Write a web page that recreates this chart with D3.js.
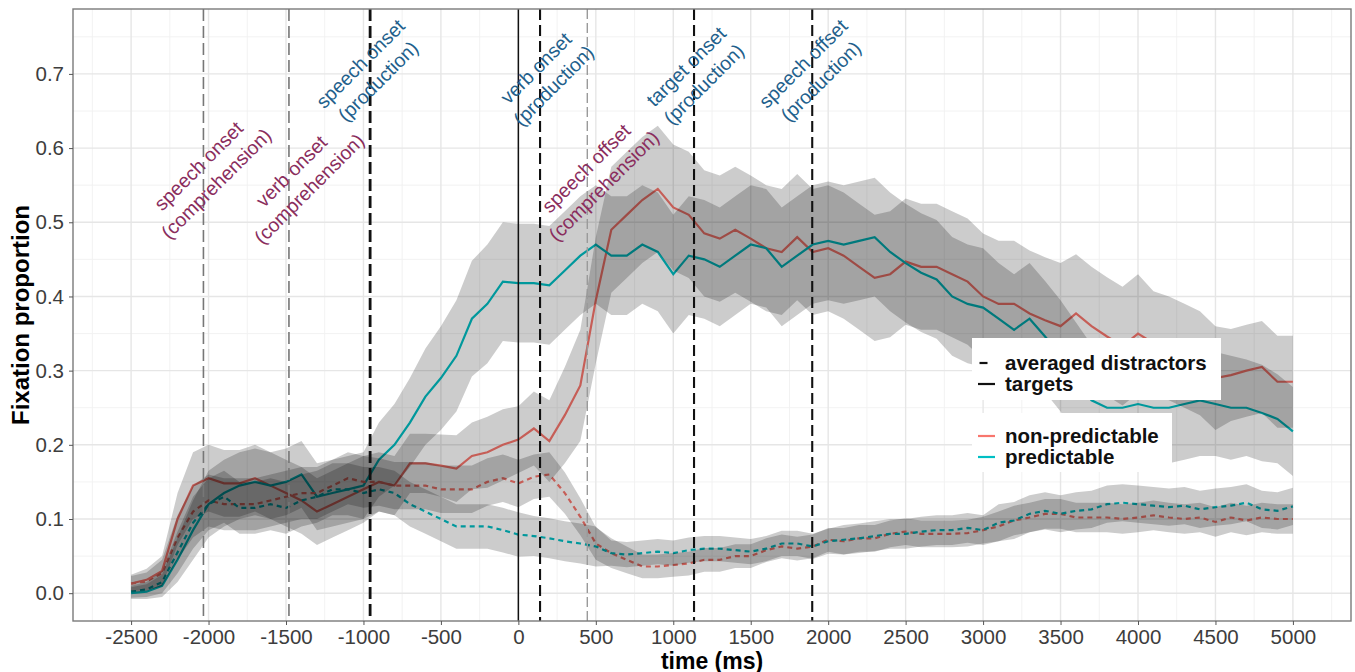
<!DOCTYPE html>
<html><head><meta charset="utf-8">
<script src="https://cdn.jsdelivr.net/npm/d3@7"></script>
<style>
body{margin:0;background:#fff}
svg{display:block}
text{font-family:"Liberation Sans",Arial,Helvetica,sans-serif}
</style>
</head><body>
<svg id="chart" width="1355" height="672"></svg>
<script>
// ---------- data ----------
const times = [
  -2500,-2400,-2300,-2200,-2100,-2000,-1900,-1800,-1700,-1600,
  -1500,-1400,-1300,-1200,-1100,-1000,-900,-800,-700,-600,
  -500,-400,-300,-200,-100,0,100,200,300,400,
  500,600,700,800,900,1000,1100,1200,1300,1400,
  1500,1600,1700,1800,1900,2000,2100,2200,2300,2400,
  2500,2600,2700,2800,2900,3000,3100,3200,3300,3400,
  3500,3600,3700,3800,3900,4000,4100,4200,4300,4400,
  4500,4600,4700,4800,4900,5000];

// targets, non-predictable (red solid)
const nonPredTarget = [
  0.013,0.018,0.030,0.100,0.145,0.155,0.148,0.148,0.155,0.145,
  0.135,0.125,0.110,0.120,0.130,0.140,0.150,0.145,0.175,0.175,
  0.172,0.168,0.185,0.190,0.200,0.207,0.222,0.205,0.240,0.280,
  0.395,0.490,0.510,0.530,0.545,0.520,0.510,0.485,0.478,0.490,
  0.478,0.465,0.460,0.480,0.460,0.465,0.455,0.440,0.425,0.430,
  0.447,0.440,0.440,0.430,0.420,0.400,0.390,0.390,0.377,0.368,
  0.360,0.377,0.360,0.346,0.333,0.350,0.337,0.330,0.320,0.310,
  0.290,0.294,0.300,0.305,0.285,0.285];
// targets, predictable (teal solid)
const predTarget = [
  0.000,0.002,0.010,0.045,0.085,0.120,0.135,0.145,0.150,0.145,
  0.150,0.160,0.130,0.135,0.140,0.145,0.180,0.200,0.230,0.265,
  0.290,0.320,0.370,0.390,0.420,0.418,0.418,0.415,0.435,0.455,
  0.470,0.455,0.455,0.470,0.460,0.430,0.455,0.450,0.440,0.455,
  0.470,0.465,0.440,0.455,0.470,0.475,0.470,0.475,0.480,0.460,
  0.445,0.432,0.423,0.400,0.390,0.385,0.370,0.355,0.370,0.346,
  0.320,0.290,0.260,0.250,0.250,0.255,0.250,0.250,0.255,0.260,
  0.255,0.250,0.250,0.243,0.235,0.218];
// averaged distractors, non-predictable (red dashed)
const nonPredDistr = [
  0.013,0.016,0.027,0.075,0.110,0.125,0.120,0.120,0.120,0.125,
  0.130,0.135,0.135,0.145,0.155,0.150,0.150,0.145,0.145,0.145,
  0.140,0.140,0.140,0.150,0.155,0.148,0.157,0.160,0.135,0.103,
  0.067,0.054,0.045,0.036,0.036,0.038,0.040,0.045,0.045,0.050,
  0.050,0.058,0.063,0.060,0.063,0.072,0.070,0.074,0.074,0.080,
  0.083,0.080,0.080,0.080,0.081,0.085,0.090,0.098,0.102,0.107,
  0.107,0.102,0.102,0.102,0.100,0.102,0.105,0.102,0.100,0.102,
  0.096,0.102,0.098,0.102,0.100,0.100];
// averaged distractors, predictable (teal dashed)
const predDistr = [
  0.002,0.005,0.015,0.055,0.095,0.120,0.130,0.115,0.115,0.120,
  0.115,0.125,0.130,0.140,0.140,0.135,0.140,0.135,0.120,0.110,
  0.100,0.090,0.090,0.090,0.085,0.079,0.077,0.074,0.070,0.067,
  0.063,0.054,0.052,0.054,0.056,0.054,0.058,0.060,0.060,0.058,
  0.056,0.060,0.067,0.067,0.063,0.070,0.072,0.074,0.077,0.080,
  0.080,0.083,0.085,0.085,0.088,0.085,0.095,0.098,0.107,0.111,
  0.107,0.111,0.113,0.120,0.122,0.120,0.118,0.116,0.118,0.113,
  0.116,0.118,0.122,0.113,0.111,0.117];

// half-widths of the grey confidence ribbons
const nonPredTargetCI = [
  0.012,0.015,0.020,0.035,0.045,0.045,0.045,0.045,0.045,0.045,
  0.045,0.045,0.045,0.045,0.045,0.045,0.040,0.040,0.040,0.040,
  0.042,0.045,0.045,0.048,0.048,0.045,0.050,0.055,0.065,0.075,
  0.085,0.085,0.085,0.085,0.085,0.085,0.085,0.085,0.085,0.085,
  0.085,0.085,0.085,0.085,0.085,0.085,0.085,0.085,0.085,0.085,
  0.085,0.085,0.085,0.085,0.085,0.085,0.085,0.085,0.085,0.085,
  0.085,0.080,0.080,0.080,0.080,0.080,0.070,0.070,0.070,0.070,
  0.070,0.062,0.062,0.062,0.062,0.062];
const predTargetCI = [
  0.008,0.010,0.015,0.030,0.040,0.045,0.045,0.045,0.045,0.045,
  0.045,0.045,0.045,0.045,0.045,0.045,0.050,0.055,0.060,0.065,
  0.070,0.075,0.078,0.080,0.080,0.080,0.080,0.080,0.080,0.080,
  0.080,0.080,0.080,0.080,0.080,0.080,0.080,0.080,0.080,0.080,
  0.080,0.080,0.080,0.080,0.080,0.080,0.080,0.080,0.080,0.080,
  0.080,0.080,0.080,0.080,0.080,0.080,0.075,0.075,0.075,0.075,
  0.075,0.075,0.075,0.075,0.075,0.075,0.075,0.075,0.075,0.075,
  0.070,0.070,0.065,0.065,0.060,0.060];
const nonPredDistrCI = [
  0.010,0.012,0.018,0.030,0.035,0.035,0.035,0.035,0.035,0.035,
  0.035,0.035,0.035,0.035,0.035,0.035,0.032,0.032,0.032,0.032,
  0.032,0.032,0.032,0.032,0.032,0.032,0.030,0.030,0.028,0.025,
  0.022,0.020,0.018,0.016,0.016,0.016,0.016,0.016,0.016,0.016,
  0.016,0.016,0.016,0.016,0.016,0.016,0.018,0.018,0.018,0.018,
  0.018,0.018,0.018,0.018,0.018,0.018,0.020,0.020,0.020,0.020,
  0.020,0.020,0.020,0.020,0.020,0.020,0.020,0.020,0.020,0.020,
  0.020,0.020,0.020,0.020,0.020,0.020];
const predDistrCI = [
  0.008,0.010,0.015,0.028,0.035,0.035,0.035,0.035,0.035,0.035,
  0.035,0.035,0.035,0.035,0.035,0.035,0.030,0.030,0.030,0.030,
  0.030,0.030,0.030,0.030,0.030,0.030,0.027,0.027,0.027,0.027,
  0.027,0.017,0.017,0.017,0.017,0.017,0.017,0.017,0.017,0.017,
  0.017,0.017,0.017,0.017,0.017,0.017,0.020,0.020,0.020,0.020,
  0.020,0.020,0.020,0.020,0.020,0.020,0.025,0.025,0.025,0.025,
  0.025,0.025,0.025,0.025,0.025,0.025,0.025,0.025,0.025,0.025,
  0.025,0.025,0.025,0.025,0.025,0.025];

const xTicks = [-2500,-2000,-1500,-1000,-500,0,500,1000,1500,2000,2500,3000,3500,4000,4500,5000];
const yTicks = [0.0,0.1,0.2,0.3,0.4,0.5,0.6,0.7];

// event markers (ms) and their kind
const eventTimes = [-2033,-1481,-957,0,140,445,1134,1897];
const eventKinds = ["comp","comp","prodStrong","zero","prod","compLight","prod","prod"];

// rotated annotation labels: centre position in data units
const labelLines1 = ["speech onset","verb onset","speech onset","verb onset","speech offset","target onset","speech offset"];
const labelLines2 = ["(comprehension)","(comprehension)","(production)","(production)","(comprehension)","(production)","(production)"];
const labelX = [-2008,-1408,-963,170,494,1140,1895];
const labelY = [0.564,0.557,0.702,0.696,0.561,0.698,0.702];
const labelGroup = ["comp","comp","prod","prod","comp","prod","prod"];

const legendTypeLabels = ["averaged distractors","targets"];
const legendCondLabels = ["non-predictable","predictable"];

// ---------- drawing ----------
const svg = d3.select("#chart");
const L = 73, R = 1351, T = 9, B = 621;
const x = d3.scaleLinear().domain([-2875,5375]).range([L,R]);
const y = d3.scaleLinear().domain([-0.0375,0.7875]).range([B,T]);

const RED = "#F8766D", TEAL = "#00BFC4";

svg.append("defs").append("clipPath").attr("id","clip")
  .append("rect").attr("x",L).attr("y",T).attr("width",R-L).attr("height",B-T);

svg.append("rect").attr("x",L).attr("y",T).attr("width",R-L).attr("height",B-T).attr("fill","#fff");

// grid
const grid = svg.append("g");
const xMinor = xTicks.map(v=>v-250).concat([5250]);
const yMinor = yTicks.map(v=>v+0.05);
grid.selectAll(".gxm").data(xMinor).join("line")
  .attr("x1",d=>x(d)).attr("x2",d=>x(d)).attr("y1",T).attr("y2",B)
  .attr("stroke","#f0f0f0").attr("stroke-width",0.9);
grid.selectAll(".gym").data(yMinor).join("line")
  .attr("y1",d=>y(d)).attr("y2",d=>y(d)).attr("x1",L).attr("x2",R)
  .attr("stroke","#f0f0f0").attr("stroke-width",0.9);
grid.selectAll(".gx").data(xTicks).join("line")
  .attr("x1",d=>x(d)).attr("x2",d=>x(d)).attr("y1",T).attr("y2",B)
  .attr("stroke","#e6e6e6").attr("stroke-width",1.4);
grid.selectAll(".gy").data(yTicks).join("line")
  .attr("y1",d=>y(d)).attr("y2",d=>y(d)).attr("x1",L).attr("x2",R)
  .attr("stroke","#e6e6e6").attr("stroke-width",1.4);

const plot = svg.append("g").attr("clip-path","url(#clip)");

const series = [
  {v:nonPredTarget, ci:nonPredTargetCI, color:RED, dash:null},
  {v:predTarget, ci:predTargetCI, color:TEAL, dash:null},
  {v:nonPredDistr, ci:nonPredDistrCI, color:RED, dash:"5,4"},
  {v:predDistr, ci:predDistrCI, color:TEAL, dash:"5,4"}
];

const line = d3.line().x((d,i)=>x(times[i])).y(d=>y(d));
series.forEach(s=>{
  plot.append("path").datum(s.v).attr("d",line)
    .attr("fill","none").attr("stroke",s.color).attr("stroke-width",2.2)
    .attr("stroke-dasharray",s.dash);
});
series.forEach(s=>{
  const area = d3.area().x((d,i)=>x(times[i]))
    .y0((d,i)=>y(d - s.ci[i])).y1((d,i)=>y(d + s.ci[i]));
  plot.append("path").datum(s.v).attr("d",area)
    .attr("fill","#000").attr("fill-opacity",0.2);
});

// event lines
const evStyle = {
  comp:{c:"#777",w:1.6,d:"12,5"},
  compLight:{c:"#9a9a9a",w:1.4,d:"10,4"},
  prodStrong:{c:"#111",w:2.8,d:"12,5"},
  prod:{c:"#111",w:2.1,d:"11,5"},
  zero:{c:"#111",w:1.5,d:null}
};
plot.selectAll(".ev").data(eventTimes).join("line")
  .attr("x1",d=>x(d)).attr("x2",d=>x(d)).attr("y1",T).attr("y2",B)
  .attr("stroke",(d,i)=>evStyle[eventKinds[i]].c)
  .attr("stroke-width",(d,i)=>evStyle[eventKinds[i]].w)
  .attr("stroke-dasharray",(d,i)=>evStyle[eventKinds[i]].d);

// annotations
const labColor = {comp:"#8a2d5d", prod:"#225f8c"};
labelLines1.forEach((t1,i)=>{
  const g = svg.append("text")
    .attr("transform",`translate(${x(labelX[i])},${y(labelY[i])}) rotate(-45)`)
    .attr("text-anchor","middle").attr("font-size",19.5)
    .attr("fill",labColor[labelGroup[i]]);
  g.append("tspan").attr("x",0).attr("y",-5.7).text(t1);
  g.append("tspan").attr("x",0).attr("y",19.3).text(labelLines2[i]);
});

// legends
const lg = svg.append("g");
lg.append("rect").attr("x",972).attr("y",338).attr("width",249).attr("height",62).attr("fill","#fff");
lg.append("rect").attr("x",972).attr("y",413).attr("width",200).attr("height",59).attr("fill","#fff");
const typeY = [363,384];
lg.selectAll(".lt").data(legendTypeLabels).join("text")
  .attr("x",1005).attr("y",(d,i)=>typeY[i]+7).attr("font-size",20.5).attr("font-weight","bold")
  .attr("fill","#111").text(d=>d);
lg.append("line").attr("x1",979.5).attr("x2",987.5).attr("y1",typeY[0]).attr("y2",typeY[0])
  .attr("stroke","#111").attr("stroke-width",2.2);
lg.append("line").attr("x1",978).attr("x2",995).attr("y1",typeY[1]).attr("y2",typeY[1])
  .attr("stroke","#111").attr("stroke-width",2.2);
const condY = [436,457];
const condC = [RED,TEAL];
lg.selectAll(".lc").data(legendCondLabels).join("text")
  .attr("x",1005).attr("y",(d,i)=>condY[i]+7).attr("font-size",20.5).attr("font-weight","bold")
  .attr("fill","#111").text(d=>d);
lg.selectAll(".lk").data(legendCondLabels).join("line")
  .attr("x1",978).attr("x2",995).attr("y1",(d,i)=>condY[i]).attr("y2",(d,i)=>condY[i])
  .attr("stroke",(d,i)=>condC[i]).attr("stroke-width",2.2);

// panel border
svg.append("rect").attr("x",L).attr("y",T).attr("width",R-L).attr("height",B-T)
  .attr("fill","none").attr("stroke","#7a7a7a").attr("stroke-width",1.4);

// axes
const xAxis = d3.axisBottom(x).tickValues(xTicks).tickSize(4).tickPadding(4).tickFormat(d3.format("d"));
const gx = svg.append("g").attr("transform",`translate(0,${B})`).call(xAxis);
gx.select(".domain").remove();
gx.selectAll("line").attr("stroke","#555");
gx.selectAll("text").attr("font-size",20.5).attr("fill","#3d3d3d").attr("font-family","Liberation Sans, Arial, sans-serif")
  .text(d=>d<0 ? "-"+Math.abs(d) : d);

const yAxis = d3.axisLeft(y).tickValues(yTicks).tickSize(4).tickPadding(5).tickFormat(d3.format(".1f"));
const gy = svg.append("g").attr("transform",`translate(${L},0)`).call(yAxis);
gy.select(".domain").remove();
gy.selectAll("line").attr("stroke","#555");
gy.selectAll("text").attr("font-size",20.5).attr("fill","#3d3d3d").attr("font-family","Liberation Sans, Arial, sans-serif");

svg.append("text").attr("x",(L+R)/2).attr("y",668.5).attr("text-anchor","middle")
  .attr("font-size",23).attr("font-weight","bold").attr("fill","#000").text("time (ms)");
svg.append("text").attr("transform",`translate(29,${(T+B)/2}) rotate(-90)`).attr("text-anchor","middle")
  .attr("font-size",24).attr("font-weight","bold").attr("fill","#000").text("Fixation proportion");
</script>
</body></html>
